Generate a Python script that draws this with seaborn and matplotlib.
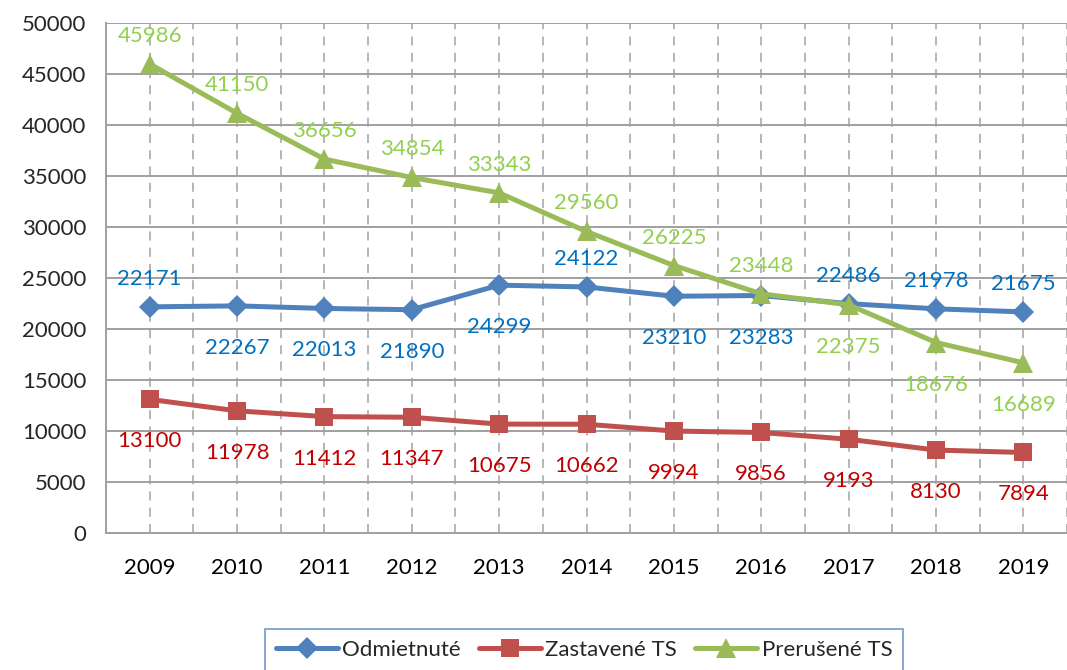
import matplotlib
matplotlib.use("Agg")
import matplotlib.pyplot as plt
import numpy as np
import pandas as pd
import seaborn as sns

# data
years = ["2009", "2010", "2011", "2012", "2013", "2014", "2015", "2016", "2017", "2018", "2019"]
odmietnute = [22171, 22267, 22013, 21890, 24299, 24122, 23210, 23283, 22486, 21978, 21675]
zastavene = [13100, 11978, 11412, 11347, 10675, 10662, 9994, 9856, 9193, 8130, 7894]
prerusene = [45986, 41150, 36656, 34854, 33343, 29560, 26225, 23448, 22375, 18676, 16689]

# label side for each point: 1 above, -1 below
blue_side = [1, -1, -1, -1, -1, 1, -1, -1, 1, 1, 1]
red_side = [-1] * 11
green_side = [1, 1, 1, 1, 1, 1, 1, 1, -1, -1, -1]

sns.set_style("white")
plt.rcParams['font.family'] = ['Lato', 'DejaVu Sans']

df = pd.DataFrame({
    "rok": list(range(len(years))) * 3,
    "hodnota": odmietnute + zastavene + prerusene,
    "serie": ["Odmietnuté"] * 11 + ["Zastavené TS"] * 11 + ["Prerušené TS"] * 11,
})

line_colors = {"Odmietnuté": "#4F81BD", "Zastavené TS": "#C0504D", "Prerušené TS": "#9BBB59"}
label_colors = {"Odmietnuté": "#0070C0", "Zastavené TS": "#C00000", "Prerušené TS": "#92D050"}
markers = {"Odmietnuté": "D", "Zastavené TS": "s", "Prerušené TS": "^"}
msizes = {"Odmietnuté": 11, "Zastavené TS": 13, "Prerušené TS": 15}

fig = plt.figure(figsize=(10.67, 6.70), dpi=100)
ax = fig.add_axes([106 / 1067, 137 / 670, 961 / 1067, 510 / 670])

for name in ["Odmietnuté", "Zastavené TS", "Prerušené TS"]:
    sub = df[df["serie"] == name]
    sns.lineplot(data=sub, x="rok", y="hodnota", ax=ax, color=line_colors[name],
                 marker=markers[name], markersize=msizes[name], markeredgewidth=0,
                 linewidth=3.6, label=name, zorder=3)

for vals, sides, name in [(odmietnute, blue_side, "Odmietnuté"),
                          (zastavene, red_side, "Zastavené TS"),
                          (prerusene, green_side, "Prerušené TS")]:
    for i, (v, s) in enumerate(zip(vals, sides)):
        off = 28 if s > 0 else -42
        ax.annotate(str(v), (i, v), xytext=(0, off), textcoords="offset pixels",
                    ha="center", va="center", fontsize=16, color=label_colors[name], zorder=4)

ax.set_xlim(-0.5, 10.45)
ax.set_ylim(0, 50000)
ax.set_yticks(np.arange(0, 50001, 5000))
ax.set_xticks(range(len(years)))
ax.set_xticklabels(years)
ax.set_xticks(np.arange(-0.5, 10.6, 1), minor=True)
ax.set_xlabel("")
ax.set_ylabel("")

ax.grid(axis="y", color="#A0A0A0", linewidth=1.4, linestyle="-")
ax.grid(axis="x", which="both", color="#B0B0B0", linewidth=1.3, linestyle=(0, (5, 4)))
ax.set_axisbelow(True)

ax.tick_params(axis="x", which="major", length=0, labelsize=16, pad=18, colors="black")
ax.tick_params(axis="x", which="minor", length=8, width=1.4, color="#A0A0A0", direction="out")
ax.tick_params(axis="y", length=8, width=1.4, color="#A0A0A0", labelsize=16, pad=6)

for side in ["top", "right"]:
    ax.spines[side].set_visible(False)
for side in ["left", "bottom"]:
    ax.spines[side].set_color("#A0A0A0")
    ax.spines[side].set_linewidth(1.4)

leg = ax.legend(loc="center", bbox_to_anchor=(584 / 1067, 20 / 670), bbox_transform=fig.transFigure,
                ncol=3, frameon=True, fancybox=False, fontsize=16, handlelength=2.8,
                columnspacing=0.8, handletextpad=0.2, borderpad=0.5)
leg.get_frame().set_edgecolor("#4F81BD")
leg.get_frame().set_linewidth(1.2)

fig.savefig("out.png", dpi=100)
